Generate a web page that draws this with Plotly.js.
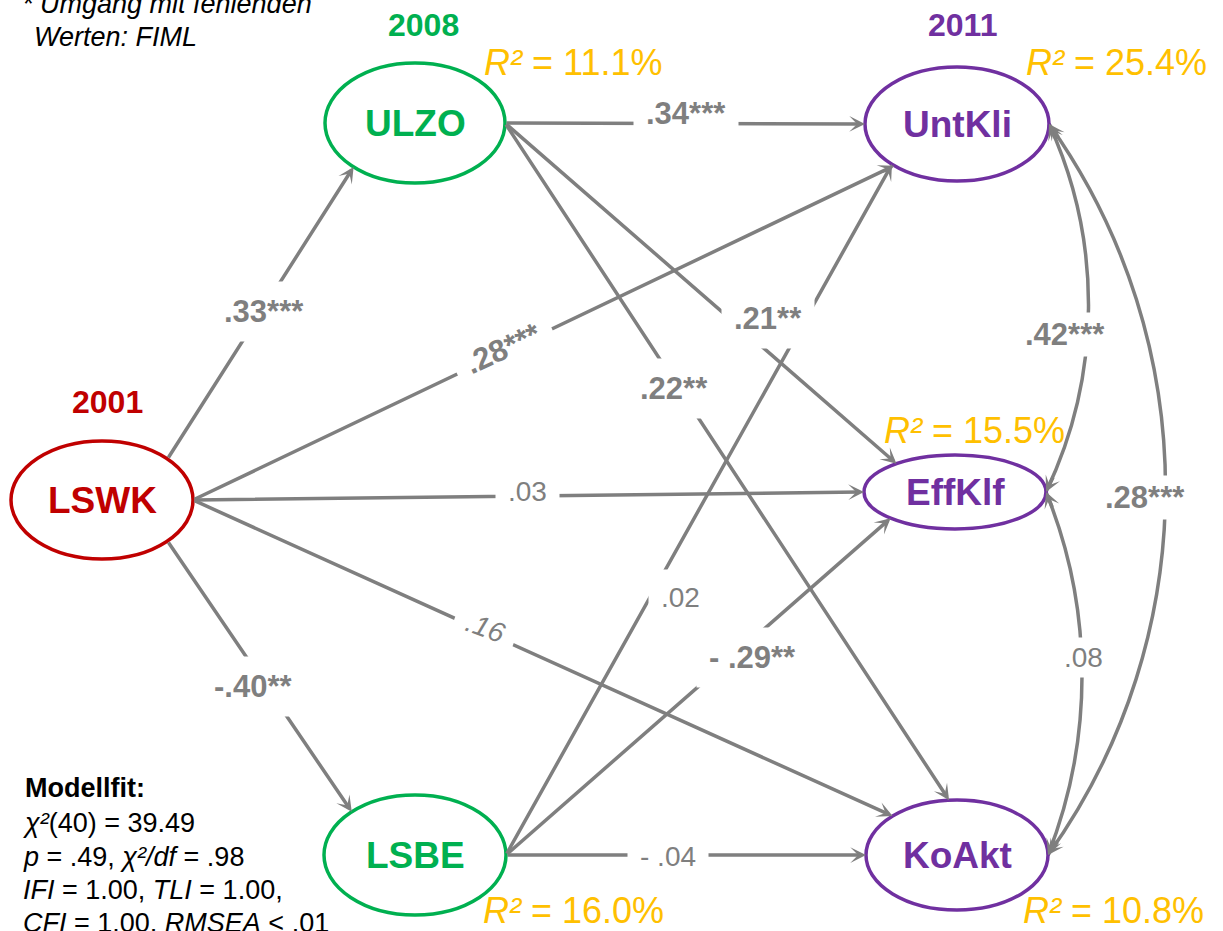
<!DOCTYPE html>
<html>
<head>
<meta charset="utf-8">
<script src="https://cdn.plot.ly/plotly-3.0.1.min.js"></script>
<style>html,body{margin:0;padding:0;background:#fff;}#chart{width:1223px;height:931px;}</style>
</head>
<body>
<div id="chart"></div>
<script>
// ---------------- data ----------------
const nodes      = ['LSWK', 'ULZO', 'LSBE', 'UntKli', 'EffKlf', 'KoAkt'];
const nodeYears  = ['2001', '2008', '', '2011', '', ''];
const nodeR2     = ['', '11.1%', '16.0%', '25.4%', '15.5%', '10.8%'];

const pathFrom   = ['LSWK', 'LSWK', 'LSWK', 'LSWK', 'LSWK', 'ULZO', 'ULZO', 'ULZO', 'LSBE', 'LSBE', 'LSBE'];
const pathTo     = ['ULZO', 'UntKli', 'EffKlf', 'KoAkt', 'LSBE', 'UntKli', 'EffKlf', 'KoAkt', 'UntKli', 'EffKlf', 'KoAkt'];
const pathCoef   = ['.33***', '.28***', '.03', '.16', '-.40**', '.34***', '.21**', '.22**', '.02', '- .29**', '- .04'];
const pathSig    = [true, true, false, false, true, true, true, true, false, true, false];

const covFrom    = ['UntKli', 'EffKlf', 'UntKli'];
const covTo      = ['EffKlf', 'KoAkt', 'KoAkt'];
const covCoef    = ['.42***', '.08', '.28***'];
const covSig     = [true, false, true];

const noteLines  = ['* Umgang mit fehlenden', 'Werten: FIML'];
const fitTitle   = 'Modellfit:';
const fitLines   = [
  '<i>χ²</i>(40) = 39.49',
  '<i>p</i> = .49, <i>χ²/df</i> = .98',
  '<i>IFI</i> = 1.00, <i>TLI</i> = 1.00,',
  '<i>CFI</i> = 1.00, <i>RMSEA</i> < .01'
];

// ---------------- layout / style ----------------
const FONT = 'Liberation Sans, Arial, Helvetica, sans-serif';
const GRAY = '#7F7F7F';
const RED = '#C00000', GREEN = '#00B050', PURPLE = '#7030A0', ORANGE = '#FFC000';

const nodeGeo = {
  LSWK:   {cx: 102, cy: 500, rx: 91, ry: 59, color: RED},
  ULZO:   {cx: 415, cy: 123, rx: 90, ry: 60, color: GREEN},
  LSBE:   {cx: 415, cy: 855, rx: 91, ry: 60, color: GREEN},
  UntKli: {cx: 957, cy: 124, rx: 92, ry: 57, color: PURPLE},
  EffKlf: {cx: 955, cy: 492, rx: 91, ry: 37, color: PURPLE},
  KoAkt:  {cx: 957, cy: 855, rx: 91, ry: 55, color: PURPLE}
};
const yearPos = {LSWK: [107, 402], ULZO: [423, 25], UntKli: [962, 25]};
const r2Pos = {ULZO: [573, 62], LSBE: [573, 910], UntKli: [1116, 62], EffKlf: [974, 430], KoAkt: [1113, 910]};

// anchor angles (deg, y-up) on source / target ellipse and label placement for each path
const pathGeo = [
  {sa: 44,  ta: 227, lx: 264, ly: 311, rot: 0},
  {sa: 0,   ta: 227, lx: 503, ly: 348, rot: -25},
  {sa: 0,   ta: 180, lx: 527, ly: 491, rot: 0},
  {sa: 0,   ta: 135, lx: 485, ly: 627, rot: 20},
  {sa: 316, ta: 134, lx: 253, ly: 686, rot: 0},
  {sa: 0,   ta: 180, lx: 686, ly: 113, rot: 0},
  {sa: 0,   ta: 130, lx: 768, ly: 318, rot: 0},
  {sa: 0,   ta: 95,  lx: 674, ly: 388, rot: 0},
  {sa: 0,   ta: 225, lx: 680, ly: 597, rot: 0},
  {sa: 0,   ta: 225, lx: 752, ly: 657, rot: 0},
  {sa: 0,   ta: 180, lx: 668, ly: 856, rot: 0}
];
const covGeo = [
  {bulge: 41,  lx: 1065, ly: 334},
  {bulge: 35,  lx: 1083, ly: 657},
  {bulge: 117, lx: 1145, ly: 497}
];

function ept(n, ang) {
  const g = nodeGeo[n], a = ang * Math.PI / 180;
  return [g.cx + g.rx * Math.cos(a), g.cy - g.ry * Math.sin(a)];
}

const shapes = [];
const annotations = [];

// straight paths (arrows)
pathFrom.forEach((f, i) => {
  const s = ept(f, pathGeo[i].sa), t = ept(pathTo[i], pathGeo[i].ta);
  annotations.push({
    x: t[0], y: t[1], ax: s[0], ay: s[1], xref: 'x', yref: 'y', axref: 'x', ayref: 'y',
    text: '', showarrow: true, arrowhead: 3, arrowsize: 0.75, arrowwidth: 3.5,
    arrowcolor: GRAY, standoff: 0, startstandoff: 0
  });
});

// curved covariances
covFrom.forEach((f, i) => {
  const p0 = ept(f, 0), p1 = ept(covTo[i], 0);
  const dx = p1[0] - p0[0], dy = p1[1] - p0[1];
  const L = Math.hypot(dx, dy);
  const u = [dx / L, dy / L], nrm = [u[1], -u[0]];
  const h = covGeo[i].bulge;
  const R = (L * L / 4 + h * h) / (2 * h);
  const th = Math.asin(Math.min(1, (L / 2) / R));
  const k = 4 / 3 * Math.tan(th / 2) * R;
  const t0 = [u[0] * Math.cos(th) + nrm[0] * Math.sin(th), u[1] * Math.cos(th) + nrm[1] * Math.sin(th)];
  const t1 = [-u[0] * Math.cos(th) + nrm[0] * Math.sin(th), -u[1] * Math.cos(th) + nrm[1] * Math.sin(th)];
  const c1 = [p0[0] + k * t0[0], p0[1] + k * t0[1]];
  const c2 = [p1[0] + k * t1[0], p1[1] + k * t1[1]];
  shapes.push({
    type: 'path', xref: 'x', yref: 'y', layer: 'above',
    path: `M ${p0[0]},${p0[1]} C ${c1[0]},${c1[1]} ${c2[0]},${c2[1]} ${p1[0]},${p1[1]}`,
    line: {color: GRAY, width: 3.5}
  });
  [[p0, t0], [p1, t1]].forEach(([p, t]) => {
    annotations.push({
      x: p[0], y: p[1], ax: p[0] + 18 * t[0], ay: p[1] + 18 * t[1],
      xref: 'x', yref: 'y', axref: 'x', ayref: 'y',
      text: '', showarrow: true, arrowhead: 3, arrowsize: 0.75, arrowwidth: 3.5,
      arrowcolor: GRAY, standoff: 0, startstandoff: 0
    });
  });
});

// nodes
nodes.forEach((n, i) => {
  const g = nodeGeo[n];
  shapes.push({
    type: 'circle', xref: 'x', yref: 'y', layer: 'above',
    x0: g.cx - g.rx, x1: g.cx + g.rx, y0: g.cy - g.ry, y1: g.cy + g.ry,
    line: {color: g.color, width: 3.5}, fillcolor: 'rgba(255,255,255,0)'
  });
  annotations.push({
    x: g.cx, y: g.cy, xref: 'x', yref: 'y', text: '<b>' + n + '</b>', showarrow: false,
    font: {family: FONT, size: 37, color: g.color}, xanchor: 'center', yanchor: 'middle'
  });
  if (nodeYears[i]) {
    const p = yearPos[n];
    annotations.push({
      x: p[0], y: p[1], xref: 'x', yref: 'y', text: '<b>' + nodeYears[i] + '</b>', showarrow: false,
      font: {family: FONT, size: 32, color: g.color}, xanchor: 'center', yanchor: 'middle'
    });
  }
  if (nodeR2[i]) {
    const p = r2Pos[n];
    annotations.push({
      x: p[0], y: p[1], xref: 'x', yref: 'y', text: '<i>R²</i> = ' + nodeR2[i], showarrow: false,
      font: {family: FONT, size: 36, color: ORANGE}, xanchor: 'center', yanchor: 'middle'
    });
  }
});

// coefficient labels
function coefLabel(txt, sig, x, y, rot, italic, pad) {
  let t = sig ? '<b>' + txt + '</b>' : txt;
  if (italic) t = '<i>' + t + '</i>';
  annotations.push({
    x: x, y: y, xref: 'x', yref: 'y', text: t, showarrow: false,
    font: {family: FONT, size: sig ? 31 : 28, color: GRAY},
    bgcolor: '#FFFFFF', borderpad: pad, textangle: rot,
    xanchor: 'center', yanchor: 'middle'
  });
}
pathCoef.forEach((c, i) => {
  const g = pathGeo[i];
  coefLabel(c, pathSig[i], g.lx, g.ly, g.rot, c === '.16', 12);
});
covCoef.forEach((c, i) => {
  const g = covGeo[i];
  coefLabel(c, covSig[i], g.lx, g.ly, 0, false, 4);
});

// note (top left)
annotations.push({x: 20, y: 4, xref: 'x', yref: 'y', text: '<i>' + noteLines[0] + '</i>', showarrow: false,
  font: {family: FONT, size: 27, color: '#000'}, xanchor: 'left', yanchor: 'middle'});
annotations.push({x: 32, y: 37, xref: 'x', yref: 'y', text: '<i>' + noteLines[1] + '</i>', showarrow: false,
  font: {family: FONT, size: 27, color: '#000'}, xanchor: 'left', yanchor: 'middle'});

// model fit (bottom left)
annotations.push({x: 23, y: 788, xref: 'x', yref: 'y', text: '<b>' + fitTitle + '</b>', showarrow: false,
  font: {family: FONT, size: 27, color: '#000'}, xanchor: 'left', yanchor: 'middle'});
const fitY = [823, 857, 890, 923];
fitLines.forEach((l, i) => {
  annotations.push({x: 21, y: fitY[i], xref: 'x', yref: 'y', text: l, showarrow: false,
    font: {family: FONT, size: 27, color: '#000'}, xanchor: 'left', yanchor: 'middle'});
});

const layout = {
  width: 1223, height: 931,
  margin: {l: 0, r: 0, t: 0, b: 0, pad: 0},
  paper_bgcolor: '#FFFFFF', plot_bgcolor: '#FFFFFF',
  showlegend: false,
  xaxis: {range: [0, 1223], visible: false, fixedrange: true},
  yaxis: {range: [931, 0], visible: false, fixedrange: true},
  shapes: shapes,
  annotations: annotations
};

Plotly.newPlot('chart', [{x: [], y: [], type: 'scatter', mode: 'markers'}], layout,
  {staticPlot: true, displayModeBar: false});
</script>
</body>
</html>
